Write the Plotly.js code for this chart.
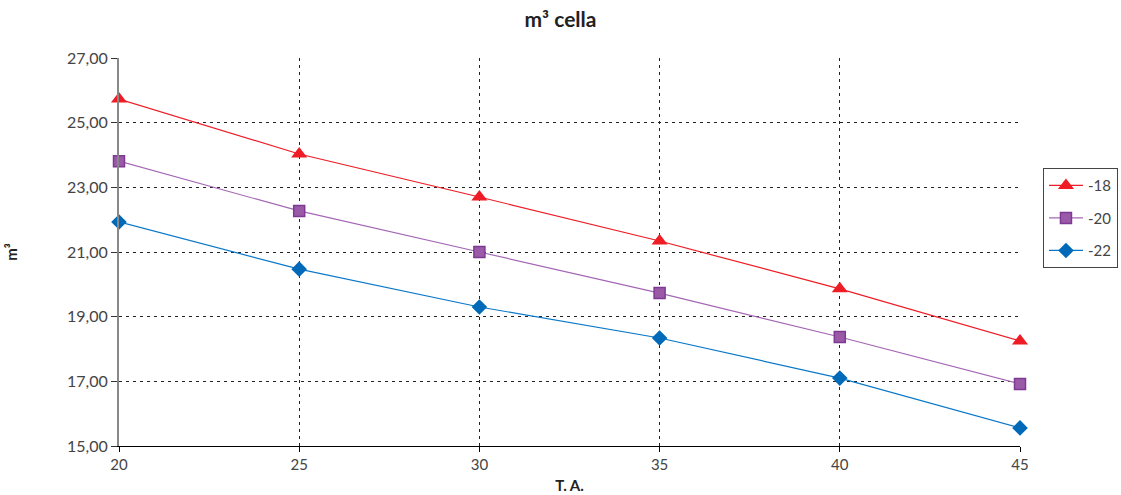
<!DOCTYPE html>
<html>
<head>
<meta charset="utf-8">
<script src="https://cdn.plot.ly/plotly-3.0.1.min.js"></script>
<style>html,body{margin:0;padding:0;background:#fff;}#chart{width:1121px;height:495px;}</style>
</head>
<body>
<div id="chart"></div>
<script>
const temps = [20, 25, 30, 35, 40, 45];
const seriesNames = ["-18", "-20", "-22"];
const s18 = [25.73, 24.03, 22.70, 21.34, 19.86, 18.25];
const s20 = [23.81, 22.27, 21.00, 19.73, 18.37, 16.92];
const s22 = [21.93, 20.47, 19.30, 18.34, 17.10, 15.56];
const yTicks = [15, 17, 19, 21, 23, 25, 27];

const traces = [
  {x: temps, y: s18, name: seriesNames[0], mode: "lines+markers", cliponaxis: false, legendgroup: "a",
   line: {color: "#ee1c25", width: 1.2},
   marker: {symbol: "triangle-up", size: 14, color: "#ee1c25"}},
  {x: temps, y: s20, name: seriesNames[1], mode: "lines+markers", cliponaxis: false, legendgroup: "b",
   line: {color: "#a466b4", width: 1.2},
   marker: {symbol: "square", size: 11, color: "#9a5aa8", line: {color: "#7e3a92", width: 1.5}}},
  {x: temps, y: s22, name: seriesNames[2], mode: "lines+markers", cliponaxis: false, legendgroup: "c",
   line: {color: "#0a78c8", width: 1.2},
   marker: {symbol: "diamond", size: 12, color: "#0069b8"}}
];

const layout = {
  width: 1121, height: 495,
  margin: {l: 119, r: 101, t: 58, b: 49, autoexpand: false},
  paper_bgcolor: "#fff", plot_bgcolor: "#fff",
  separators: ",.",
  font: {family: "Lato, 'Open Sans', sans-serif", color: "#444", size: 15},
  title: {text: "m³ cella", x: 0.5, xanchor: "center", y: 0.975, yanchor: "top",
          font: {family: "Lato, sans-serif", size: 21, color: "#222", weight: "bold"}},
  xaxis: {
    range: [20, 45], tickvals: temps, ticktext: temps.map(String),
    showgrid: true, gridcolor: "#222", griddash: "3px,4px", gridwidth: 1,
    showline: true, linecolor: "#000", linewidth: 1.2,
    ticks: "outside", ticklen: 5, tickcolor: "#000",
    zeroline: false,
    tickfont: {size: 15, color: "#444"},
    title: {text: "T. A.", standoff: 8, font: {size: 15, color: "#222", weight: "bold"}}
  },
  yaxis: {
    range: [15, 27], tickvals: yTicks, tickformat: ".2f",
    showgrid: true, gridcolor: "#222", griddash: "3px,4px", gridwidth: 1,
    showline: true, linecolor: "#888", linewidth: 2,
    ticks: "outside", ticklen: 6, tickcolor: "#333",
    zeroline: false,
    tickfont: {size: 16, color: "#444"},
    title: {text: "m³", standoff: 46, font: {size: 15, color: "#222", weight: "bold"}}
  },
  showlegend: true,
  legend: {x: 1.0255, xanchor: "left", y: 0.716, yanchor: "top",
           bordercolor: "#444", borderwidth: 1, bgcolor: "#fff",
           font: {size: 15, color: "#444"}, itemwidth: 34, tracegroupgap: 10}
};

Plotly.newPlot("chart", traces, layout, {displayModeBar: false, staticPlot: true});
</script>
</body>
</html>
